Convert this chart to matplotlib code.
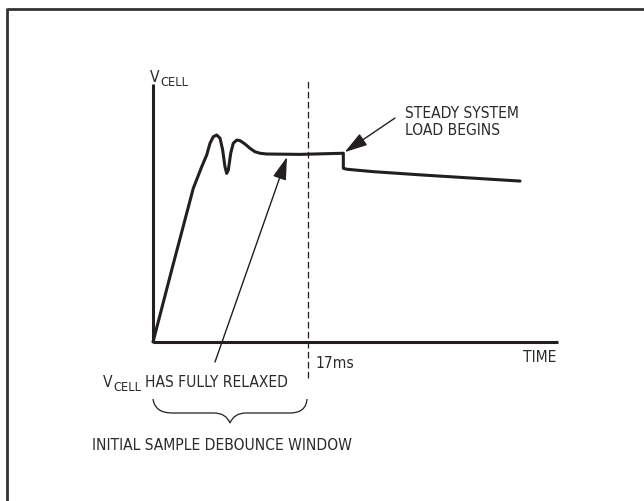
import matplotlib
matplotlib.use("Agg")
import matplotlib.pyplot as plt
import matplotlib.transforms as mtransforms
from matplotlib.path import Path
from matplotlib.patches import PathPatch
from matplotlib import font_manager
from matplotlib.font_manager import FontProperties

# V_CELL trace: time in ms, voltage relative to the settled level
t_ms = [0.0, 2.05, 4.42, 5.34, 5.89, 6.25, 6.61, 6.98, 7.35, 7.64, 7.89, 8.08,
        8.26, 8.52, 8.80, 9.18, 9.54, 10.09, 10.64, 11.18, 11.73, 12.47,
        16.12, 20.87, 20.87, 21.24, 24.16, 29.64, 40.24]
v_cell = [0.0, 0.383, 0.818, 0.932, 0.995, 1.057, 1.092, 1.101, 1.084, 1.021,
          0.932, 0.897, 0.915, 1.004, 1.057, 1.074, 1.071, 1.053, 1.030, 1.012,
          1.004, 1.000, 0.998, 1.004, 0.924, 0.919, 0.906, 0.888, 0.856]

t_debounce = 17.0      # dashed marker
t_load = 20.87         # steady system load begins
t_relaxed = 14.69      # where the "fully relaxed" arrow points
t_end = 44.4           # end of time axis
v_top = 1.37           # top of V axis

W, H = 644, 501
px_ms, px_v = 9.12, 188.0
x0, y0 = 153, 342      # origin in pixels
ink = '#231f20'
txt = '#2b2b2b'


def pick_font():
    # the original uses a condensed sans; take the best narrow face installed
    best, best_rank = None, 99
    for f in font_manager.fontManager.ttflist:
        if f.style != 'normal' or str(f.weight) not in ('400', 'normal', 'regular', 'book'):
            continue
        nm = (f.name + ' ' + f.fname).lower()
        if 'mono' in nm or 'serif' in nm.replace('sans', ''):
            continue
        if 'extracondensed' in nm or 'ultracondensed' in nm or 'extra-condensed' in nm:
            rank = 5
        elif 'semicondensed' in nm or 'semi-condensed' in nm:
            rank = 3
        elif 'narrow' in nm or 'condensed' in nm or f.stretch == 'condensed':
            rank = 1
        elif f.name == 'Roboto':
            rank = 8
        elif f.name == 'Liberation Sans':
            rank = 9
        else:
            continue
        if rank < best_rank:
            best, best_rank = f.fname, rank
    return best


fname = pick_font()

fig = plt.figure(figsize=(W / 100, H / 100), dpi=100)
ax = fig.add_axes([0, 0, 1, 1])
ax.set_xlim(-x0 / px_ms, (W - x0) / px_ms)
ax.set_ylim(-(H - y0) / px_v, y0 / px_v)
ax.axis('off')
renderer = fig.canvas.get_renderer()


def fp(size):
    if fname:
        return FontProperties(fname=fname, size=size)
    return FontProperties(family='DejaVu Sans', size=size)


def width(s, prop):
    return renderer.get_text_width_height_descent(s, prop, ismath=False)[0]


# fit the size so "HAS FULLY RELAXED" spans about 143 px as in the original
fs = 11.0 * 143.0 / width('HAS FULLY RELAXED', fp(11.0))
fs = min(fs, 13.0)
main, sub = fp(fs), fp(fs * 0.82)

# pixel coordinates, y downwards
P = mtransforms.Affine2D().scale(1 / W, -1 / H).translate(0, 1) + fig.transFigure

# outer frame (only top and left visible)
ax.plot([7, W], [9, 9], color='#333333', lw=2.0, transform=P, clip_on=False, solid_capstyle='butt')
ax.plot([7, 7], [8, H], color='#333333', lw=2.0, transform=P, clip_on=False, solid_capstyle='butt')

# axes
ax.plot([0, 0], [0, v_top], color=ink, lw=2.2, solid_capstyle='butt')
ax.plot([0, t_end], [0, 0], color=ink, lw=2.2, solid_capstyle='butt')

# dashed 17ms marker
ax.plot([t_debounce, t_debounce], [-0.19, v_top + 0.02], color=ink, lw=0.9,
        linestyle=(0, (5.3, 2.7)))

# the trace
ax.plot(t_ms, v_cell, color=ink, lw=2.2, solid_joinstyle='round', solid_capstyle='round')


def label(x, y, s, prop, **kw):
    ax.text(x, y, s, transform=P, fontproperties=prop, color=txt, va='baseline', **kw)


# V_CELL on the vertical axis
label(150, 82, 'V', main)
label(150 + width('V', main) + 0.5, 86, 'CELL', sub)

label(523, 362, 'TIME', main)
label(315, 368, '17ms', main)
label(405, 118, 'STEADY SYSTEM', main)
label(405, 135, 'LOAD BEGINS', main)

label(145, 387, 'HAS FULLY RELAXED', main)
label(141, 391, 'CELL', sub, ha='right')
label(141 - width('CELL', sub) - 0.5, 387, 'V', main, ha='right')

label(222, 450, 'INITIAL SAMPLE DEBOUNCE WINDOW', main, ha='center')

# arrows
aprops = dict(arrowstyle='-|>,head_length=1.0,head_width=0.3', mutation_scale=14,
              lw=1.0, color=ink, shrinkA=0, shrinkB=0)
ax.annotate('', xy=(t_load + 0.15, 1.01), xytext=(395, 118), textcoords=P, arrowprops=aprops)
ax.annotate('', xy=(t_relaxed, 0.984), xytext=(215, 362), textcoords=P, arrowprops=aprops)

# brace under the debounce window
verts = [(153, 399), (155, 413), (172, 413), (214, 413), (226, 413), (230, 423),
         (234, 413), (246, 413), (290, 413), (306, 413), (307, 399)]
codes = [Path.MOVETO, Path.CURVE3, Path.CURVE3, Path.LINETO, Path.CURVE3, Path.CURVE3,
         Path.CURVE3, Path.CURVE3, Path.LINETO, Path.CURVE3, Path.CURVE3]
ax.add_patch(PathPatch(Path(verts, codes), transform=P, fill=False, lw=0.9, edgecolor=ink))

plt.savefig('out.png', dpi=100)
